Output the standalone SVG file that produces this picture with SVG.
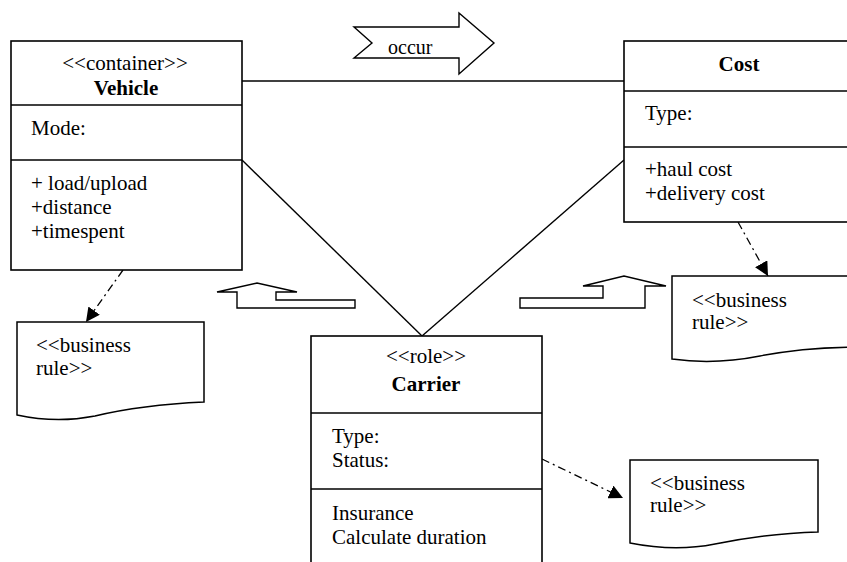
<svg xmlns="http://www.w3.org/2000/svg" width="847" height="562" viewBox="0 0 847 562">
  <style>
    .box { fill: #fff; stroke: #000; stroke-width: 1.6; }
    .sep { stroke: #000; stroke-width: 1.6; fill: none; }
    .assoc { stroke: #000; stroke-width: 1.4; fill: none; }
    .dep { stroke: #000; stroke-width: 1.3; fill: none; stroke-dasharray: 8 4 2 4; }
    .note { fill: #fff; stroke: #000; stroke-width: 1.5; }
    .big { fill: #fff; stroke: #000; stroke-width: 1.4; }
    .bold { font-weight: bold; }
    .mid { text-anchor: middle; }
  </style>
  <defs>
    <marker id="head" viewBox="0 0 10 10" refX="10" refY="5" markerWidth="14" markerHeight="14" markerUnits="userSpaceOnUse" orient="auto">
      <path d="M0,0 L10,5 L0,10 Z" fill="#000"/>
    </marker>
  </defs>

  <rect width="847" height="562" fill="#fff"/>

  <!-- associations and dependencies -->
  <g id="connectors">
    <line class="assoc" x1="242" y1="81" x2="624" y2="81"/>
    <line class="assoc" x1="242" y1="160" x2="422" y2="336"/>
    <line class="assoc" x1="624" y1="160" x2="422" y2="336"/>
    <line class="dep" x1="123" y1="270" x2="86" y2="322" marker-end="url(#head)"/>
    <line class="dep" x1="738" y1="222" x2="768" y2="276" marker-end="url(#head)"/>
    <line class="dep" x1="542" y1="459" x2="623" y2="498" marker-end="url(#head)"/>
  </g>

  <g font-family="'Liberation Serif', 'Times New Roman', 'DejaVu Serif', serif" font-size="21" fill="#000">
    <!-- block arrows -->
    <g id="occur-arrow">
      <polygon class="big" points="354,27 459,27 459,13 494,43 459,74 459,58 354,58 372,43"/>
      <text x="388" y="54" font-size="20">occur</text>
    </g>
    <g id="up-arrow-left">
      <polygon class="big" points="217,292 257,283 297,292 276,292 276,300 355,300 355,308 237,308 237,292"/>
    </g>
    <g id="up-arrow-right">
      <polygon class="big" points="583,286 624,276 666,286 645,286 645,308 520,308 520,298 603,298 603,286"/>
    </g>

    <!-- Vehicle -->
    <g id="vehicle">
      <rect class="box" x="11" y="41" width="231" height="229"/>
      <line class="sep" x1="11" y1="105" x2="242" y2="105"/>
      <line class="sep" x1="11" y1="160" x2="242" y2="160"/>
      <text class="mid" x="125" y="70">&lt;&lt;container&gt;&gt;</text>
      <text class="mid bold" x="126" y="95">Vehicle</text>
      <text x="31" y="135">Mode:</text>
      <text x="31" y="190">+ load/upload</text>
      <text x="31" y="214">+distance</text>
      <text x="31" y="238">+timespent</text>
    </g>

    <!-- Cost -->
    <g id="cost">
      <rect class="box" x="624" y="41" width="240" height="181"/>
      <line class="sep" x1="624" y1="91" x2="847" y2="91"/>
      <line class="sep" x1="624" y1="147" x2="847" y2="147"/>
      <text class="mid bold" x="739" y="71">Cost</text>
      <text x="645" y="120">Type:</text>
      <text x="645" y="176">+haul cost</text>
      <text x="645" y="200">+delivery cost</text>
    </g>

    <!-- Carrier -->
    <g id="carrier">
      <rect class="box" x="311" y="336" width="231" height="240"/>
      <line class="sep" x1="311" y1="413" x2="542" y2="413"/>
      <line class="sep" x1="311" y1="489" x2="542" y2="489"/>
      <text class="mid" x="426" y="363">&lt;&lt;role&gt;&gt;</text>
      <text class="mid bold" x="426" y="391">Carrier</text>
      <text x="332" y="443">Type:</text>
      <text x="332" y="467">Status:</text>
      <text x="332" y="520">Insurance</text>
      <text x="332" y="544">Calculate duration</text>
    </g>

    <!-- business rule notes -->
    <g id="rule-vehicle">
      <path class="note" d="M17,322 L204,322 L204,402 C160,404 120,410 95,416 C65,422 40,420 17,415 Z"/>
      <text x="36" y="352">&lt;&lt;business</text>
      <text x="36" y="375">rule&gt;&gt;</text>
    </g>
    <g id="rule-cost">
      <path class="note" d="M672,276 L860,276 L860,347 C820,347 790,350 760,356 C730,362 700,363 672,359 Z"/>
      <text x="692" y="307">&lt;&lt;business</text>
      <text x="692" y="329">rule&gt;&gt;</text>
    </g>
    <g id="rule-carrier">
      <path class="note" d="M630,460 L818,460 L818,532 C775,533 745,538 715,544 C685,550 655,548 630,543 Z"/>
      <text x="650" y="490">&lt;&lt;business</text>
      <text x="650" y="512">rule&gt;&gt;</text>
    </g>
  </g>
</svg>
